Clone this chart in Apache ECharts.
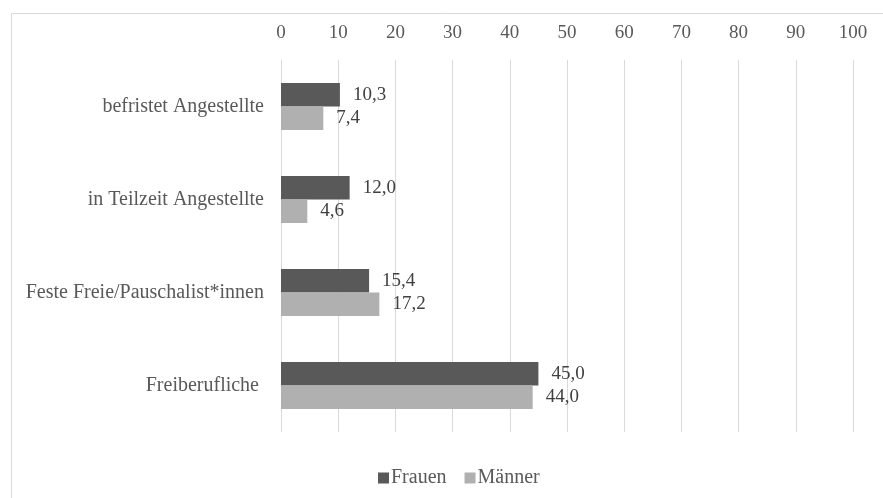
<!DOCTYPE html>
<html>
<head>
<meta charset="utf-8">
<script src="https://cdn.jsdelivr.net/npm/echarts@6/dist/echarts.min.js"></script>
<style>
html,body{margin:0;padding:0;background:#fff;}
#chart{width:883px;height:498px;}
</style>
</head>
<body>
<div id="chart"></div>
<script>
const categories = ['befristet Angestellte', 'in Teilzeit Angestellte', 'Feste Freie/Pauschalist*innen', 'Freiberufliche '];
const frauen = [10.3, 12.0, 15.4, 45.0];
const maenner = [7.4, 4.6, 17.2, 44.0];
const seriesNames = ['Frauen', 'Männer'];

const FONT = '"Liberation Serif", "Times New Roman", serif';
const fmt = p => p.value.toFixed(1).replace('.', ',');

const chart = echarts.init(document.getElementById('chart'));
chart.setOption({
  animation: false,
  backgroundColor: '#fff',
  textStyle: { fontFamily: FONT },
  graphic: [{
    type: 'rect', left: 9, top: 11,
    shape: { width: 900, height: 500 },
    style: { fill: 'none', stroke: '#d9d9d9', lineWidth: 1 }
  }],
  grid: { left: 281, right: 30, top: 60, bottom: 66 },
  legend: {
    left: 373, top: 463,
    itemWidth: 11, itemHeight: 11, itemGap: 18,
    icon: 'rect',
    textStyle: { fontFamily: FONT, fontSize: 20, color: '#595959', padding: [0, 0, 0, -3] },
    data: seriesNames
  },
  xAxis: {
    type: 'value', position: 'top',
    min: 0, max: 100, interval: 10,
    axisLine: { show: false }, axisTick: { show: false },
    axisLabel: { fontFamily: FONT, fontSize: 19, color: '#595959', margin: 17 },
    splitLine: { lineStyle: { color: '#d9d9d9', width: 1 } }
  },
  yAxis: {
    type: 'category', inverse: true, data: categories,
    axisLine: { show: false }, axisTick: { show: false },
    axisLabel: { fontFamily: FONT, fontSize: 20, color: '#595959', margin: 17 }
  },
  series: [
    {
      name: seriesNames[0], type: 'bar', data: frauen,
      barWidth: 23.5, barGap: '0%',
      itemStyle: { color: '#595959' },
      label: { show: true, position: 'right', distance: 13, formatter: fmt,
               fontFamily: FONT, fontSize: 19, color: '#404040' }
    },
    {
      name: seriesNames[1], type: 'bar', data: maenner,
      barWidth: 23.5, barGap: '0%',
      itemStyle: { color: '#b0b0b0' },
      label: { show: true, position: 'right', distance: 13, formatter: fmt,
               fontFamily: FONT, fontSize: 19, color: '#404040' }
    }
  ]
});
</script>
</body>
</html>
